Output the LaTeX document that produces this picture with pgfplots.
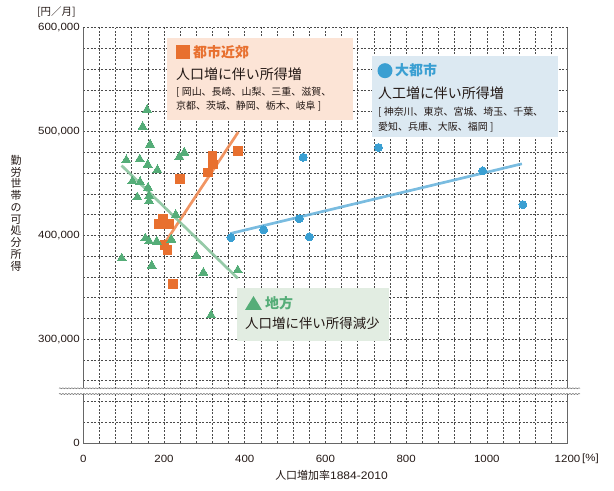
\documentclass[border=0pt]{standalone}
\usepackage{fontspec}
\usepackage{pgfplots}
\pgfplotsset{compat=1.18}
\usetikzlibrary{decorations.pathmorphing}
\setmainfont{Liberation Sans}
\newfontfamily\jp{Noto Sans CJK JP}
\newfontfamily\numf[FakeStretch=1.1]{Liberation Sans}
\definecolor{orgpt}{HTML}{E8702F}
\definecolor{orgln}{HTML}{F08A52}
\definecolor{orgbox}{HTML}{FCE4D6}
\definecolor{blupt}{HTML}{3A9FD2}
\definecolor{bluln}{HTML}{6BB5DD}
\definecolor{blubox}{HTML}{DCE9F2}
\definecolor{grnpt}{HTML}{55AD78}
\definecolor{grnln}{HTML}{8BC49E}
\definecolor{grnbox}{HTML}{E2EDE2}
\definecolor{txt}{HTML}{231815}
\definecolor{gridc}{HTML}{4A4A4A}
\definecolor{axc}{HTML}{666666}
\begin{document}
\begin{tikzpicture}
\useasboundingbox (0,0) rectangle (614bp,491bp);
\begin{axis}[
 at={(83.3bp,48bp)}, anchor=south west,
 scale only axis, width=484.2bp, height=415.3bp,
 xmin=0, xmax=1200, ymin=200000, ymax=600000,
 xtick={0,200,...,1200}, minor x tick num=4,
 ytick={200000,300000,400000,500000,600000},
 yticklabels={{0},{300,000},{400,000},{500,000},{600,000}},
 minor y tick num=4,
 grid=both,
 grid style={dash pattern=on 2bp off 1.6bp, color=gridc, line width=0.5bp},
 major tick length=0, minor tick length=0,
 axis line style={draw=none},
 tick label style={font=\numf\fontsize{10.5}{12}\selectfont, text=txt},
 /pgf/number format/assume math mode=true,
 /pgf/number format/1000 sep={},
 xticklabel style={yshift=-9bp},
 scaled y ticks=false,
 clip=false,
]
\draw[axc, line width=0.9bp] (rel axis cs:0,1) -- (rel axis cs:0,0) -- (rel axis cs:1,0) -- (rel axis cs:1,1);
% trend lines
\addplot[orgln, line width=2.7bp, opacity=0.9] coordinates {(192.7,387200) (384,499500)};
\addplot[bluln, line width=2.7bp, opacity=0.9] coordinates {(364,401700) (1087,468900)};
\addplot[grnln, line width=2.7bp, opacity=0.9] coordinates {(95,467200) (382.8,358600)};
% points
\addplot[orgpt, only marks, mark=square*, mark size=4.3bp, mark options={line width=0pt}] coordinates {
(239,454400) (308.5,460700) (320,476200) (321,468200) (384,481400) (198,415700) (187.7,410800) (212.5,410800) (201,390500) (209,385700) (222.4,353400)};
\addplot[blupt, only marks, mark=*, mark size=4bp, mark options={line width=0pt}] coordinates {
(366,397900) (447,405300) (535,416000) (560,398500) (545,475200) (731.5,484600) (990,462100) (1089.5,429500)};
\addplot[grnpt, only marks, mark=triangle*, mark size=5.2bp, mark options={line width=0pt}] coordinates {
(158,520800) (147,504600) (165.4,487500) (106.6,472400) (139.8,473300) (159.7,468100) (183.5,463000) (238,475600) (250.4,479700) (121.5,452100) (140.6,451400) (160.4,445900) (134,436600) (163,437900) (163,433100) (229,419800) (153.7,397200) (163,394400) (182,394100) (218.2,396000) (95.2,377900) (169.6,370800) (280.2,380500) (297.6,364100) (382.8,366300) (316.6,323100)};
\end{axis}
% axis break
\fill[white] (59bp,97bp) rectangle (580bp,102.7bp);
\draw[decorate, decoration={snake, amplitude=0.5bp, segment length=3bp}, axc, line width=0.5bp] (59bp,97bp) -- (580bp,97bp);
\draw[decorate, decoration={snake, amplitude=0.5bp, segment length=3bp}, axc, line width=0.5bp] (59bp,102.7bp) -- (580bp,102.7bp);
% labels
\node[anchor=west, inner sep=0, text=txt, font=\jp\fontsize{10.5}{12}\selectfont] at (37bp,479.3bp) {[円／月]};
\node[anchor=west, inner sep=0, text=txt, font=\numf\fontsize{10.5}{12}\selectfont] at (582bp,32.5bp) {[\%]};
\node[inner sep=0, text=txt, font=\jp\fontsize{11}{11.8}\selectfont, align=center] at (16bp,278bp) {勤\\労\\世\\帯\\の\\可\\処\\分\\所\\得};
\node[inner sep=0, text=txt, font=\jp\fontsize{11}{12}\selectfont] at (331.5bp,16bp) {人口増加率{\numf 1884-2010}};
% orange box
\fill[orgbox] (167bp,371bp) rectangle (353bp,453bp);
\fill[orgpt] (175.5bp,432bp) rectangle (189.5bp,446bp);
\node[anchor=west, inner sep=0, text=orgpt, font=\jp\bfseries\fontsize{14}{16}\selectfont] at (193bp,439bp) {都市近郊};
\node[anchor=west, inner sep=0, text=txt, font=\jp\fontsize{14}{16}\selectfont] at (176bp,417bp) {人口増に伴い所得増};
\node[anchor=west, inner sep=0, text=txt, font=\jp\fontsize{10}{12}\selectfont] at (176bp,399bp) {[ 岡山、長崎、山梨、三重、滋賀、};
\node[anchor=west, inner sep=0, text=txt, font=\jp\fontsize{10}{12}\selectfont] at (176bp,385bp) {京都、茨城、静岡、栃木、岐阜 ]};
% blue box
\fill[blubox] (371.7bp,353.7bp) rectangle (558bp,435bp);
\fill[blupt] (385bp,420.3bp) circle (7.5bp);
\node[anchor=west, inner sep=0, text=blupt, font=\jp\bfseries\fontsize{14}{16}\selectfont] at (395bp,421bp) {大都市};
\node[anchor=west, inner sep=0, text=txt, font=\jp\fontsize{14}{16}\selectfont] at (378bp,398.3bp) {人工増に伴い所得増};
\node[anchor=west, inner sep=0, text=txt, font=\jp\fontsize{10}{12}\selectfont] at (378bp,379.3bp) {[ 神奈川、東京、宮城、埼玉、千葉、};
\node[anchor=west, inner sep=0, text=txt, font=\jp\fontsize{10}{12}\selectfont] at (378bp,364.3bp) {愛知、兵庫、大阪、福岡 ]};
% green box
\fill[grnbox] (236.7bp,150.3bp) rectangle (389bp,202.7bp);
\fill[grnpt] (245bp,181bp) -- (262bp,181bp) -- (253.5bp,195bp) -- cycle;
\node[anchor=west, inner sep=0, text=grnpt, font=\jp\bfseries\fontsize{14}{16}\selectfont] at (265bp,188bp) {地方};
\node[anchor=west, inner sep=0, text=txt, font=\jp\fontsize{13.5}{16}\selectfont] at (245bp,167.7bp) {人口増に伴い所得減少};
\end{tikzpicture}
\end{document}
